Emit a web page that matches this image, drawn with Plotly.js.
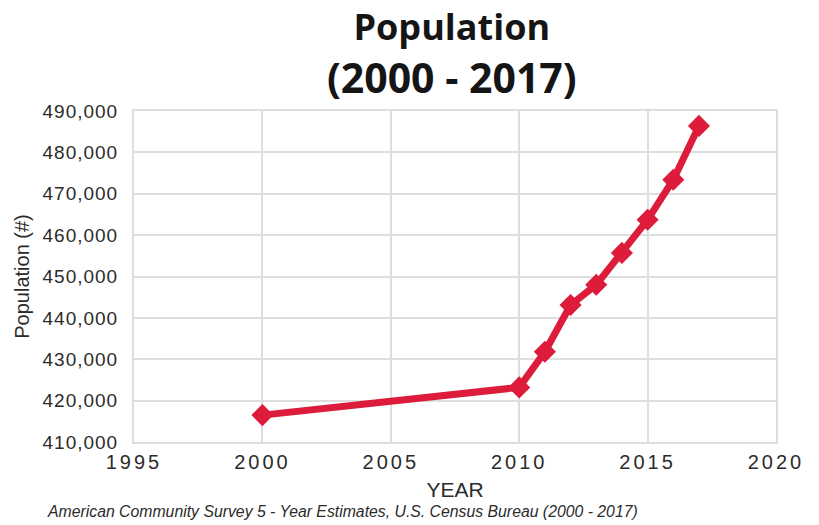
<!DOCTYPE html>
<html>
<head>
<meta charset="utf-8">
<script src="https://cdn.plot.ly/plotly-3.0.1.min.js"></script>
<style>
html,body{margin:0;padding:0;background:#fff;}
#chart{width:819px;height:525px;}
#chart .xtick text{letter-spacing:3px;}
#chart .ytick text{letter-spacing:1px;}
</style>
</head>
<body>
<div id="chart"></div>
<script>
const years = [2000, 2010, 2011, 2012, 2013, 2014, 2015, 2016, 2017];
const population = [416500, 423200, 431800, 443100, 448000, 455700, 463700, 473400, 486400];
const xTicks = [1995, 2000, 2005, 2010, 2015, 2020];
const yTicks = [410000, 420000, 430000, 440000, 450000, 460000, 470000, 480000, 490000];
const titleLine1 = "Population";
const titleLine2 = "(2000 - 2017)";
const xTitle = "YEAR";
const yTitle = "Population (#)";
const sourceNote = "American Community Survey 5 - Year Estimates, U.S. Census Bureau (2000 - 2017)";

const trace = {
  x: years, y: population, type: 'scatter', mode: 'lines+markers',
  line: {color: '#DD1B3B', width: 7},
  marker: {symbol: 'diamond', size: 17, color: '#DD1B3B'},
  hoverinfo: 'x+y'
};

const tickFont = '"Liberation Sans", Arial, sans-serif';

const layout = {
  width: 819, height: 525,
  paper_bgcolor: '#fff', plot_bgcolor: '#fff',
  margin: {l: 134, r: 43, t: 111, b: 83},
  showlegend: false,
  title: {
    text: '<b><span style="font-size:36px">' + titleLine1 + '</span></b><br><b>' + titleLine2 + '</b>',
    xref: 'paper', x: 0.495, xanchor: 'center',
    yref: 'paper', y: 1, yanchor: 'bottom',
    pad: {b: 71},
    font: {family: '"Open Sans", Lato, sans-serif', size: 41, color: '#151515'}
  },
  xaxis: {
    range: [1995, 2020], tickvals: xTicks, ticktext: xTicks.map(String),
    showgrid: true, gridcolor: '#dedede', gridwidth: 2,
    zeroline: false, showline: true, linecolor: '#dedede', linewidth: 2, mirror: true,
    ticks: '', ticklabelstandoff: 1,
    tickfont: {family: tickFont, size: 20, color: '#2b2b2b'},
    title: {text: xTitle, standoff: 10, font: {family: tickFont, size: 21, color: '#2b2b2b'}}
  },
  yaxis: {
    range: [410000, 490000], tickvals: yTicks, tickformat: ',d',
    showgrid: true, gridcolor: '#dedede', gridwidth: 2,
    zeroline: false, showline: true, linecolor: '#dedede', linewidth: 2, mirror: true,
    ticks: '', ticklabelstandoff: 10,
    tickfont: {family: tickFont, size: 19, color: '#2b2b2b'},
    title: {text: yTitle, standoff: 15, font: {family: tickFont, size: 20, color: '#2b2b2b'}}
  },
  annotations: [{
    text: '<i>' + sourceNote + '</i>', xref: 'paper', yref: 'paper',
    x: -0.138, xanchor: 'left', y: -0.2085, yanchor: 'middle', showarrow: false,
    font: {family: tickFont, size: 15.8, color: '#2b2b2b'}
  }]
};

Plotly.newPlot('chart', [trace], layout, {displayModeBar: false, staticPlot: true});
</script>
</body>
</html>
